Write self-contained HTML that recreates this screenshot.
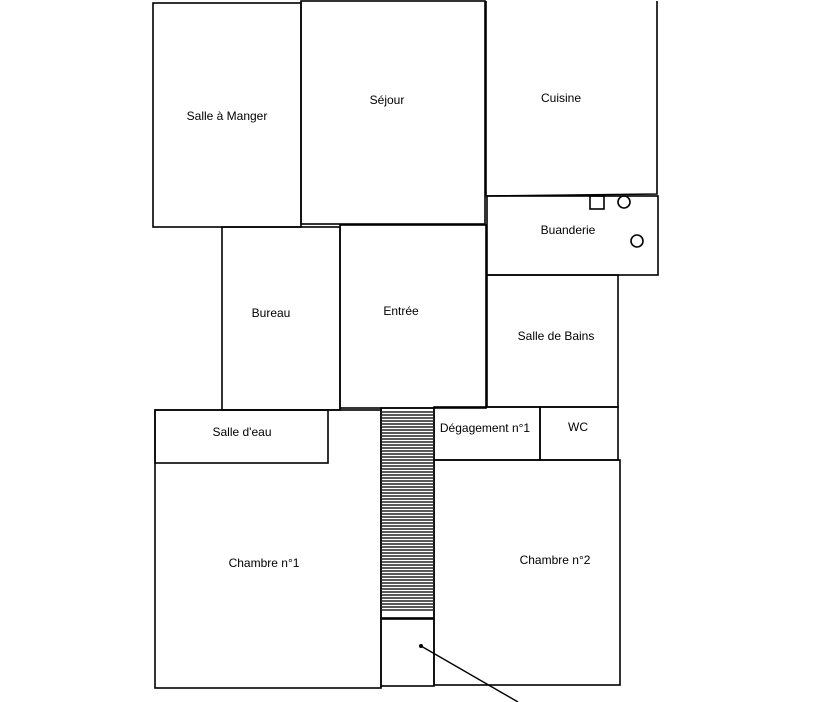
<!DOCTYPE html>
<html><head><meta charset="utf-8"><style>
html,body{margin:0;padding:0;background:#fff;}
svg{display:block;}
text{font-family:"Liberation Sans",Arial,sans-serif;font-size:12px;fill:#000;text-anchor:middle;}
</style></head><body>
<svg width="836" height="702" viewBox="0 0 836 702" xmlns="http://www.w3.org/2000/svg">
<g fill="none" stroke="#000" stroke-width="1.6">
<!-- top row -->
<rect x="153" y="3" width="148" height="224"/>
<rect x="301" y="1" width="184" height="223"/>
<polyline points="486,1 486,196 657,194 657,1"/>
<!-- buanderie -->
<rect x="487" y="196" width="171" height="79"/>
<!-- middle row -->
<rect x="222" y="227" width="118" height="183"/>
<rect x="340" y="225" width="146" height="183"/>
<rect x="487" y="275" width="131" height="132"/>
<!-- bottom -->
<rect x="155" y="410" width="226" height="278"/>
<rect x="155" y="410" width="173" height="53"/>
<rect x="381" y="408" width="53" height="210"/>
<rect x="381" y="619" width="53" height="67"/>
<rect x="434" y="407" width="106" height="53"/>
<rect x="540" y="407" width="78" height="53"/>
<rect x="434" y="460" width="186" height="225"/>
<!-- fixtures -->
<rect x="590" y="196" width="14" height="13"/>
<circle cx="624" cy="202" r="6"/>
<circle cx="637" cy="241" r="6"/>
<line x1="421" y1="646" x2="518" y2="702" stroke-width="1.4"/>
</g>
<circle cx="421" cy="646" r="2" fill="#000"/>
<!-- stair hatch -->
<g stroke="#222" stroke-width="1.4">
<line x1="381" y1="412" x2="434" y2="412"/><line x1="381" y1="415" x2="434" y2="415"/><line x1="381" y1="418" x2="434" y2="418"/><line x1="381" y1="421" x2="434" y2="421"/><line x1="381" y1="424" x2="434" y2="424"/><line x1="381" y1="427" x2="434" y2="427"/><line x1="381" y1="430" x2="434" y2="430"/><line x1="381" y1="433" x2="434" y2="433"/><line x1="381" y1="436" x2="434" y2="436"/><line x1="381" y1="439" x2="434" y2="439"/><line x1="381" y1="442" x2="434" y2="442"/><line x1="381" y1="445" x2="434" y2="445"/><line x1="381" y1="448" x2="434" y2="448"/><line x1="381" y1="451" x2="434" y2="451"/><line x1="381" y1="454" x2="434" y2="454"/><line x1="381" y1="457" x2="434" y2="457"/><line x1="381" y1="460" x2="434" y2="460"/><line x1="381" y1="463" x2="434" y2="463"/><line x1="381" y1="466" x2="434" y2="466"/><line x1="381" y1="469" x2="434" y2="469"/><line x1="381" y1="472" x2="434" y2="472"/><line x1="381" y1="475" x2="434" y2="475"/><line x1="381" y1="478" x2="434" y2="478"/><line x1="381" y1="481" x2="434" y2="481"/><line x1="381" y1="484" x2="434" y2="484"/><line x1="381" y1="487" x2="434" y2="487"/><line x1="381" y1="490" x2="434" y2="490"/><line x1="381" y1="493" x2="434" y2="493"/><line x1="381" y1="496" x2="434" y2="496"/><line x1="381" y1="499" x2="434" y2="499"/><line x1="381" y1="502" x2="434" y2="502"/><line x1="381" y1="505" x2="434" y2="505"/><line x1="381" y1="508" x2="434" y2="508"/><line x1="381" y1="511" x2="434" y2="511"/><line x1="381" y1="514" x2="434" y2="514"/><line x1="381" y1="517" x2="434" y2="517"/><line x1="381" y1="520" x2="434" y2="520"/><line x1="381" y1="523" x2="434" y2="523"/><line x1="381" y1="526" x2="434" y2="526"/><line x1="381" y1="529" x2="434" y2="529"/><line x1="381" y1="532" x2="434" y2="532"/><line x1="381" y1="535" x2="434" y2="535"/><line x1="381" y1="538" x2="434" y2="538"/><line x1="381" y1="541" x2="434" y2="541"/><line x1="381" y1="544" x2="434" y2="544"/><line x1="381" y1="547" x2="434" y2="547"/><line x1="381" y1="550" x2="434" y2="550"/><line x1="381" y1="553" x2="434" y2="553"/><line x1="381" y1="556" x2="434" y2="556"/><line x1="381" y1="559" x2="434" y2="559"/><line x1="381" y1="562" x2="434" y2="562"/><line x1="381" y1="565" x2="434" y2="565"/><line x1="381" y1="568" x2="434" y2="568"/><line x1="381" y1="571" x2="434" y2="571"/><line x1="381" y1="574" x2="434" y2="574"/><line x1="381" y1="577" x2="434" y2="577"/><line x1="381" y1="580" x2="434" y2="580"/><line x1="381" y1="583" x2="434" y2="583"/><line x1="381" y1="586" x2="434" y2="586"/><line x1="381" y1="589" x2="434" y2="589"/><line x1="381" y1="592" x2="434" y2="592"/><line x1="381" y1="595" x2="434" y2="595"/><line x1="381" y1="598" x2="434" y2="598"/><line x1="381" y1="601" x2="434" y2="601"/><line x1="381" y1="604" x2="434" y2="604"/><line x1="381" y1="607" x2="434" y2="607"/><line x1="381" y1="610" x2="434" y2="610"/>
</g>
<text x="227" y="120">Salle à Manger</text>
<text x="387" y="104">Séjour</text>
<text x="561" y="102">Cuisine</text>
<text x="568" y="234">Buanderie</text>
<text x="271" y="317">Bureau</text>
<text x="401" y="315">Entrée</text>
<text x="556" y="340">Salle de Bains</text>
<text x="242" y="436">Salle d'eau</text>
<text x="485" y="432">Dégagement n°1</text>
<text x="578" y="431">WC</text>
<text x="264" y="567">Chambre n°1</text>
<text x="555" y="564">Chambre n°2</text>
</svg>
</body></html>
